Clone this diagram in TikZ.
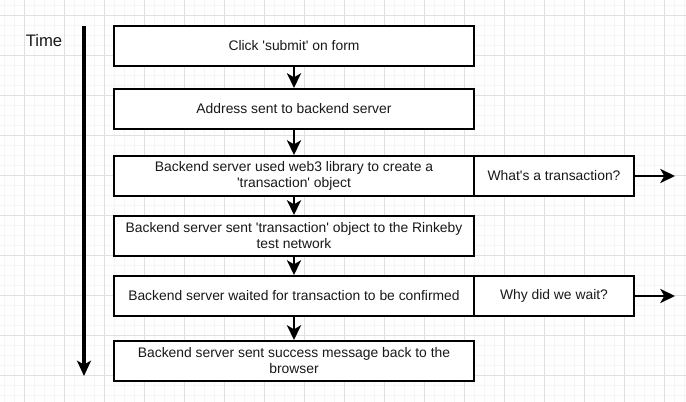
\documentclass[tikz,border=0pt]{standalone}
\usepackage{fontspec}
\setmainfont{Liberation Sans}[Ligatures=TeXOff]
\usetikzlibrary{arrows.meta}
\begin{document}
\begin{tikzpicture}[x=0.75pt,y=-0.75pt,
  box/.style={draw=black,line width=1.5pt,fill=white,minimum height=30pt,inner sep=0pt,align=center,font=\fontsize{10.4}{12}\selectfont,text=black!90},
  flow/.style={line width=2.2pt,-{Stealth[length=11pt,width=10.5pt,inset=3pt]}},
]
\useasboundingbox (0,0) rectangle (686,402);
\fill[white] (0,0) rectangle (686,402);
% minor grid
\foreach \x in {4,14,...,684} \draw[black!4,line width=0.75pt] (\x,0) -- (\x,402);
\foreach \y in {6,16,...,400} \draw[black!4,line width=0.75pt] (0,\y) -- (686,\y);
% major grid
\foreach \x in {24,64,...,684} \draw[black!12,line width=0.75pt] (\x,0) -- (\x,402);
\foreach \y in {16,56,...,400} \draw[black!12,line width=0.75pt] (0,\y) -- (686,\y);

\node[font=\fontsize{12.5}{14}\selectfont,text=black!90] (time) at (44,41) {Time};
\coordinate (ts) at (84,26);
\coordinate (te) at (84,376);
\draw[line width=2.4pt,-{Stealth[length=11.5pt,width=10.5pt,inset=3pt]}] (ts) -- (te);

\node[box,minimum width=270pt] (b1) at (294,46) {Click 'submit' on form};
\node[box,minimum width=270pt] (b2) at (294,109) {Address sent to backend server};
\node[box,minimum width=270pt] (b3) at (294,176) {Backend server used web3 library to create a\\'transaction' object};
\node[box,minimum width=270pt] (b4) at (294,236) {Backend server sent 'transaction' object to the Rinkeby\\test network};
\node[box,minimum width=270pt] (b5) at (294,296) {Backend server waited for transaction to be confirmed};
\node[box,minimum width=270pt] (b6) at (294,361) {Backend server sent success message back to the\\browser};

\node[box,minimum width=120pt] (q1) at (554,176) {What's a transaction?};
\node[box,minimum width=120pt] (q2) at (554,296) {Why did we wait?};
\coordinate (q1e) at (675,176);
\coordinate (q2e) at (675,296);

\draw[flow] (b1) -- (b2);
\draw[flow] (b2) -- (b3);
\draw[flow] (b3) -- (b4);
\draw[flow] (b4) -- (b5);
\draw[flow] (b5) -- (b6);
\draw[flow] (q1) -- (q1e);
\draw[flow] (q2) -- (q2e);
\end{tikzpicture}
\end{document}
